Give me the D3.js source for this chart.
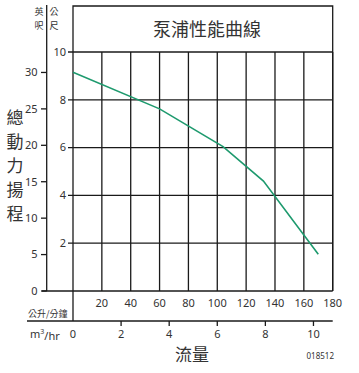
<!DOCTYPE html>
<html><head><meta charset="utf-8">
<script src="https://cdn.jsdelivr.net/npm/d3@7"></script>
<style>
body{margin:0;background:#fff;}
svg{display:block;}
text{font-family:"Noto Sans","Open Sans",sans-serif;fill:#333;}
.cjk{font-family:"Noto Sans CJK TC","Noto Sans CJK SC",sans-serif;}
</style></head><body>
<svg id="c" width="359" height="373"></svg>
<script>
// data: flow (L/min) vs head (m)
const flowLpm = [0, 60, 104, 132, 170];
const headM   = [9.15, 7.62, 6.04, 4.6, 1.54];
const lpmTicks = [20, 40, 60, 80, 100, 120, 140, 160, 180];
const m3hTicks = [0, 2, 4, 6, 8, 10];
const meterTicks = [2, 4, 6, 8, 10];
const feetTicks = [0, 5, 10, 15, 20, 25, 30];
const title = "泵浦性能曲線";
const yLabel = ["總","動","力","揚","程"];

const svg = d3.select("#c");
const x = d3.scaleLinear().domain([0,180]).range([73,332.7]);
const xm3 = d3.scaleLinear().domain([0,10]).range([x(0), x(10*1000/60)]);
const yM = d3.scaleLinear().domain([0,10]).range([291,52]);
const yFt = d3.scaleLinear().domain([0,10*3.2808]).range([291,52]);
const stroke = "#1a1a1a";

// grid: vertical
svg.append("g").selectAll("line").data(lpmTicks).join("line")
  .attr("x1",d=>x(d)).attr("x2",d=>x(d)).attr("y1",yM(10)).attr("y2",yM(0))
  .attr("stroke",stroke).attr("stroke-width",1.3);
// grid: horizontal
svg.append("g").selectAll("line").data(meterTicks).join("line")
  .attr("x1",x(0)-5).attr("x2",x(180)).attr("y1",d=>yM(d)).attr("y2",d=>yM(d))
  .attr("stroke",stroke).attr("stroke-width",1.3);
// title box
svg.append("path").attr("d",`M${x(0)},${yM(0)}V6H${x(180)}V${yM(0)}`)
  .attr("fill","none").attr("stroke",stroke).attr("stroke-width",1.3);
// extension of x=0 down to m3/hr axis
svg.append("line").attr("x1",x(0)).attr("x2",x(0)).attr("y1",yM(0)).attr("y2",321)
  .attr("stroke",stroke).attr("stroke-width",1.3);
// bottom baseline
svg.append("line").attr("x1",42).attr("x2",x(180)).attr("y1",yM(0)).attr("y2",yM(0))
  .attr("stroke",stroke).attr("stroke-width",1.3);
// meter tick labels
svg.append("g").selectAll("text").data(meterTicks).join("text")
  .attr("x",66).attr("y",d=>yM(d)).attr("dy","0.35em").attr("text-anchor","end")
  .attr("font-size",11).text(d=>d);
// feet axis
svg.append("line").attr("x1",46.7).attr("x2",46.7).attr("y1",5).attr("y2",yM(0))
  .attr("stroke",stroke).attr("stroke-width",1.3);
svg.append("g").selectAll("line").data(feetTicks).join("line")
  .attr("x1",41).attr("x2",46.7).attr("y1",d=>yFt(d)).attr("y2",d=>yFt(d))
  .attr("stroke",stroke).attr("stroke-width",1.3);
svg.append("g").selectAll("text").data(feetTicks).join("text")
  .attr("x",37.5).attr("y",d=>yFt(d)).attr("dy","0.35em").attr("text-anchor","end")
  .attr("font-size",11).text(d=>d);
// unit headers
[["英",39,12],["呎",39,25.5],["公",54,12],["尺",54,25.5]].forEach(([t,xx,yy])=>{
  svg.append("text").attr("class","cjk").attr("x",xx).attr("y",yy).attr("dy","0.35em")
    .attr("text-anchor","middle").attr("font-size",9).text(t);
});
// L/min labels
svg.append("g").selectAll("text").data(lpmTicks).join("text")
  .attr("x",d=>x(d)).attr("y",303).attr("dy","0.35em").attr("text-anchor","middle")
  .attr("font-size",11).text(d=>d);
svg.append("text").attr("class","cjk").attr("x",28).attr("y",314).attr("dy","0.35em")
  .attr("font-size",9).text("公升/分鐘");
// m3/hr axis
svg.append("line").attr("x1",27).attr("x2",x(180)).attr("y1",321).attr("y2",321)
  .attr("stroke",stroke).attr("stroke-width",1.3);
svg.append("g").selectAll("line").data(m3hTicks.filter(d=>d>0)).join("line")
  .attr("x1",d=>xm3(d)).attr("x2",d=>xm3(d)).attr("y1",321).attr("y2",326)
  .attr("stroke",stroke).attr("stroke-width",1.3);
svg.append("g").selectAll("text").data(m3hTicks).join("text")
  .attr("x",d=>xm3(d)).attr("y",334).attr("dy","0.35em").attr("text-anchor","middle")
  .attr("font-size",11).text(d=>d);
const mt = svg.append("text").attr("x",30).attr("y",334).attr("dy","0.35em").attr("font-size",11);
mt.append("tspan").text("m");
mt.append("tspan").attr("font-size",7).attr("dy","-0.6em").text("3");
mt.append("tspan").attr("dy","0.6em").text("/hr");
// title
svg.append("text").attr("class","cjk").attr("x",207).attr("y",30).attr("dy","0.35em")
  .attr("text-anchor","middle").attr("font-size",18).attr("fill","#555").text(title);
// y label
svg.append("g").selectAll("text").data(yLabel).join("text").attr("class","cjk")
  .attr("x",15).attr("y",(d,i)=>118+i*24).attr("dy","0.35em").attr("text-anchor","middle")
  .attr("font-size",17).attr("fill","#555").text(d=>d);
// x label
svg.append("text").attr("class","cjk").attr("x",192).attr("y",355).attr("dy","0.35em")
  .attr("text-anchor","middle").attr("font-size",17).attr("fill","#555").text("流量");
svg.append("text").attr("x",334).attr("y",356).attr("dy","0.35em")
  .attr("text-anchor","end").attr("font-size",8).text("018512");
// curve
const line = d3.line().x((d,i)=>x(flowLpm[i])).y(d=>yM(d));
svg.append("path").datum(headM).attr("d",line).attr("fill","none")
  .attr("stroke","#1e9a6e").attr("stroke-width",1.6);
</script>
</body></html>
